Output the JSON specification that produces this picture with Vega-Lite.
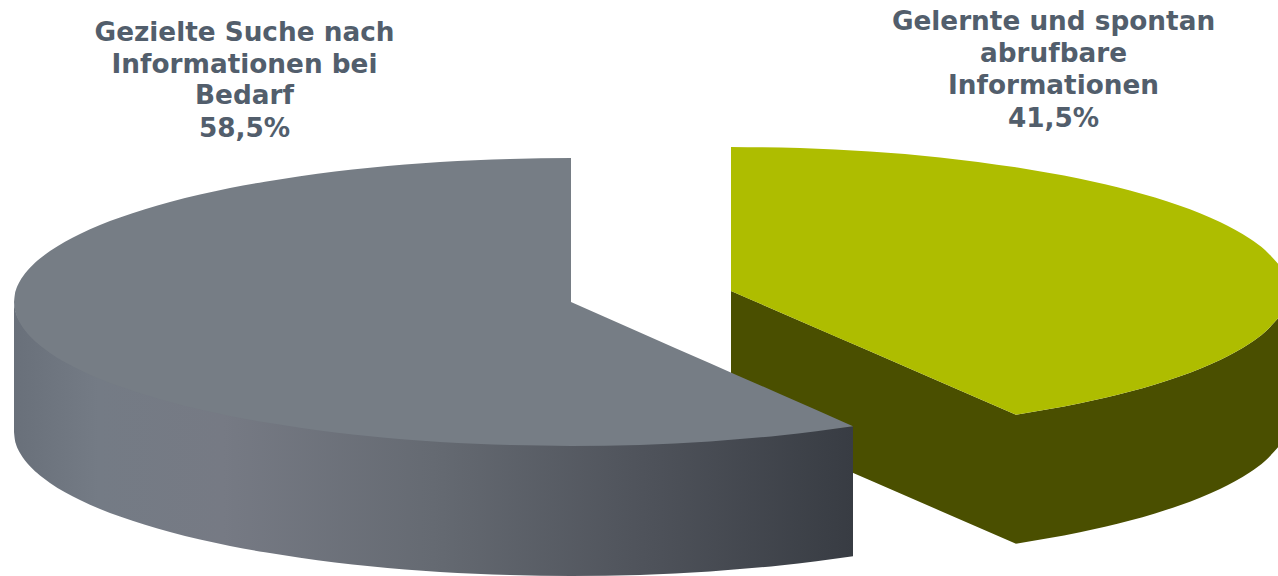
{"$schema":"https://vega.github.io/schema/vega-lite/v6.json","width":1278,"height":576,"padding":0,"autosize":{"type":"fit","contains":"padding"},"background":"white","view":{"stroke":null},
"datasets":{
"oliveWedge":[{"x":731,"y":291,"y2":420},{"x":800,"y":320.9,"y2":449.9},{"x":870,"y":351.3,"y2":480.3},{"x":940,"y":381.7,"y2":510.7},{"x":1016,"y":414.7,"y2":543.7}],
"oliveOuter":[{"x":1016,"y":414.7,"y2":543.7},{"x":1080,"y":403.2,"y2":532.2},{"x":1105,"y":397.7,"y2":526.7},{"x":1130,"y":391.5,"y2":520.5},{"x":1155,"y":384.4,"y2":513.4},{"x":1180,"y":376.2,"y2":505.2},{"x":1200,"y":368.7,"y2":497.7},{"x":1220,"y":360,"y2":489},{"x":1235,"y":352.3,"y2":481.3},{"x":1250,"y":343.3,"y2":472.3},{"x":1265,"y":332,"y2":461},{"x":1278,"y":318.2,"y2":447.2}],
"greenTopLeft":[{"x":731,"y":147,"y2":291},{"x":800,"y":148.1,"y2":320.9},{"x":870,"y":151.6,"y2":351.3},{"x":940,"y":157.5,"y2":381.7},{"x":1016,"y":167.3,"y2":414.7}],
"greenTopRight":[{"x":1016,"y":167.3,"y2":414.7},{"x":1080,"y":178.8,"y2":403.2},{"x":1105,"y":184.3,"y2":397.7},{"x":1130,"y":190.5,"y2":391.5},{"x":1155,"y":197.6,"y2":384.4},{"x":1180,"y":205.8,"y2":376.2},{"x":1200,"y":213.3,"y2":368.7},{"x":1220,"y":222,"y2":360},{"x":1235,"y":229.7,"y2":352.3},{"x":1250,"y":238.7,"y2":343.3},{"x":1265,"y":250,"y2":332},{"x":1278,"y":263.8,"y2":318.2}],
"graySide":[{"x":14,"y":301,"y2":432},{"x":15,"y":309.1,"y2":440.6},{"x":16,"y":312.7,"y2":444.2},{"x":18,"y":317.7,"y2":449.2},{"x":20,"y":321.6,"y2":453.1},{"x":25,"y":329,"y2":460.5},{"x":30,"y":334.8,"y2":466.3},{"x":40,"y":344,"y2":475.5},{"x":50,"y":351.4,"y2":482.9},{"x":65,"y":360.7,"y2":492.2},{"x":80,"y":368.5,"y2":500},{"x":100,"y":377.5,"y2":509},{"x":120,"y":385,"y2":516.5},{"x":145,"y":393.3,"y2":524.8},{"x":170,"y":400.4,"y2":531.9},{"x":200,"y":407.9,"y2":539.4},{"x":230,"y":414.4,"y2":545.9},{"x":265,"y":420.8,"y2":552.3},{"x":300,"y":426.3,"y2":557.8},{"x":335,"y":430.9,"y2":562.4},{"x":370,"y":434.8,"y2":566.3},{"x":405,"y":438,"y2":569.5},{"x":440,"y":440.5,"y2":572},{"x":475,"y":442.3,"y2":573.8},{"x":510,"y":443.6,"y2":575.1},{"x":571,"y":444.5,"y2":576},{"x":640,"y":443.4,"y2":574.9},{"x":710,"y":439.9,"y2":571.4},{"x":780,"y":434,"y2":565.5},{"x":853,"y":426.2,"y2":556.2}],
"grayTopLeft":[{"x":14,"y":302,"y2":302},{"x":15,"y":293.4,"y2":310.6},{"x":16,"y":289.8,"y2":314.2},{"x":18,"y":284.8,"y2":319.2},{"x":20,"y":280.9,"y2":323.1},{"x":25,"y":273.5,"y2":330.5},{"x":30,"y":267.7,"y2":336.3},{"x":40,"y":258.5,"y2":345.5},{"x":50,"y":251.1,"y2":352.9},{"x":65,"y":241.8,"y2":362.2},{"x":80,"y":234,"y2":370},{"x":100,"y":225,"y2":379},{"x":120,"y":217.5,"y2":386.5},{"x":145,"y":209.2,"y2":394.8},{"x":170,"y":202.1,"y2":401.9},{"x":200,"y":194.6,"y2":409.4},{"x":230,"y":188.1,"y2":415.9},{"x":265,"y":181.7,"y2":422.3},{"x":300,"y":176.2,"y2":427.8},{"x":335,"y":171.6,"y2":432.4},{"x":370,"y":167.7,"y2":436.3},{"x":405,"y":164.5,"y2":439.5},{"x":440,"y":162,"y2":442},{"x":475,"y":160.2,"y2":443.8},{"x":510,"y":158.9,"y2":445.1},{"x":571,"y":158,"y2":446}],
"grayTopRight":[{"x":571,"y":302,"y2":446},{"x":640,"y":332.4,"y2":444.9},{"x":710,"y":363.2,"y2":441.4},{"x":780,"y":394,"y2":435.5},{"x":853,"y":426.2,"y2":426.2}],
"labels":[{"x":244.5,"y":40.5,"label":"Gezielte Suche nach"},{"x":244.5,"y":72.5,"label":"Informationen bei"},{"x":244.5,"y":104,"label":"Bedarf"},{"x":244.5,"y":136.5,"label":"58,5%"},{"x":1053.5,"y":29.5,"label":"Gelernte und spontan"},{"x":1053.5,"y":61.5,"label":"abrufbare"},{"x":1053.5,"y":94,"label":"Informationen"},{"x":1053.5,"y":126.5,"label":"41,5%"}]
},
"encoding":{"x":{"field":"x","type":"quantitative","scale":{"domain":[0,1278],"nice":false,"zero":false},"axis":null},"y":{"field":"y","type":"quantitative","scale":{"domain":[576,0],"nice":false,"zero":false},"axis":null}},
"layer":[
{"data":{"name":"oliveWedge"},"mark":{"type":"area","color":"#4a4f00","orient":"vertical"},"encoding":{"y2":{"field":"y2"}}},
{"data":{"name":"oliveOuter"},"mark":{"type":"area","color":"#4a4f00","orient":"vertical","interpolate":"monotone"},"encoding":{"y2":{"field":"y2"}}},
{"data":{"name":"greenTopLeft"},"mark":{"type":"area","color":"#aebd00","orient":"vertical","interpolate":"monotone"},"encoding":{"y2":{"field":"y2"}}},
{"data":{"name":"greenTopRight"},"mark":{"type":"area","color":"#aebd00","orient":"vertical","interpolate":"monotone"},"encoding":{"y2":{"field":"y2"}}},
{"data":{"name":"graySide"},"mark":{"type":"area","orient":"vertical","interpolate":"monotone","color":{"gradient":"linear","x1":0,"y1":0,"x2":1,"y2":0,"stops":[{"offset":0,"color":"#69707a"},{"offset":0.1,"color":"#747b85"},{"offset":0.25,"color":"#767a84"},{"offset":0.5,"color":"#656a72"},{"offset":0.75,"color":"#4f535b"},{"offset":1,"color":"#383c43"}]}},"encoding":{"y2":{"field":"y2"}}},
{"data":{"name":"grayTopLeft"},"mark":{"type":"area","color":"#767d85","orient":"vertical","interpolate":"monotone"},"encoding":{"y2":{"field":"y2"}}},
{"data":{"name":"grayTopRight"},"mark":{"type":"area","color":"#767d85","orient":"vertical","interpolate":"monotone"},"encoding":{"y2":{"field":"y2"}}},
{"data":{"name":"labels"},"mark":{"type":"text","font":"DejaVu Sans","fontWeight":"bold","fontSize":26.3,"color":"#525e6c","align":"center","baseline":"alphabetic"},"encoding":{"text":{"field":"label","type":"nominal"}}}
]}
